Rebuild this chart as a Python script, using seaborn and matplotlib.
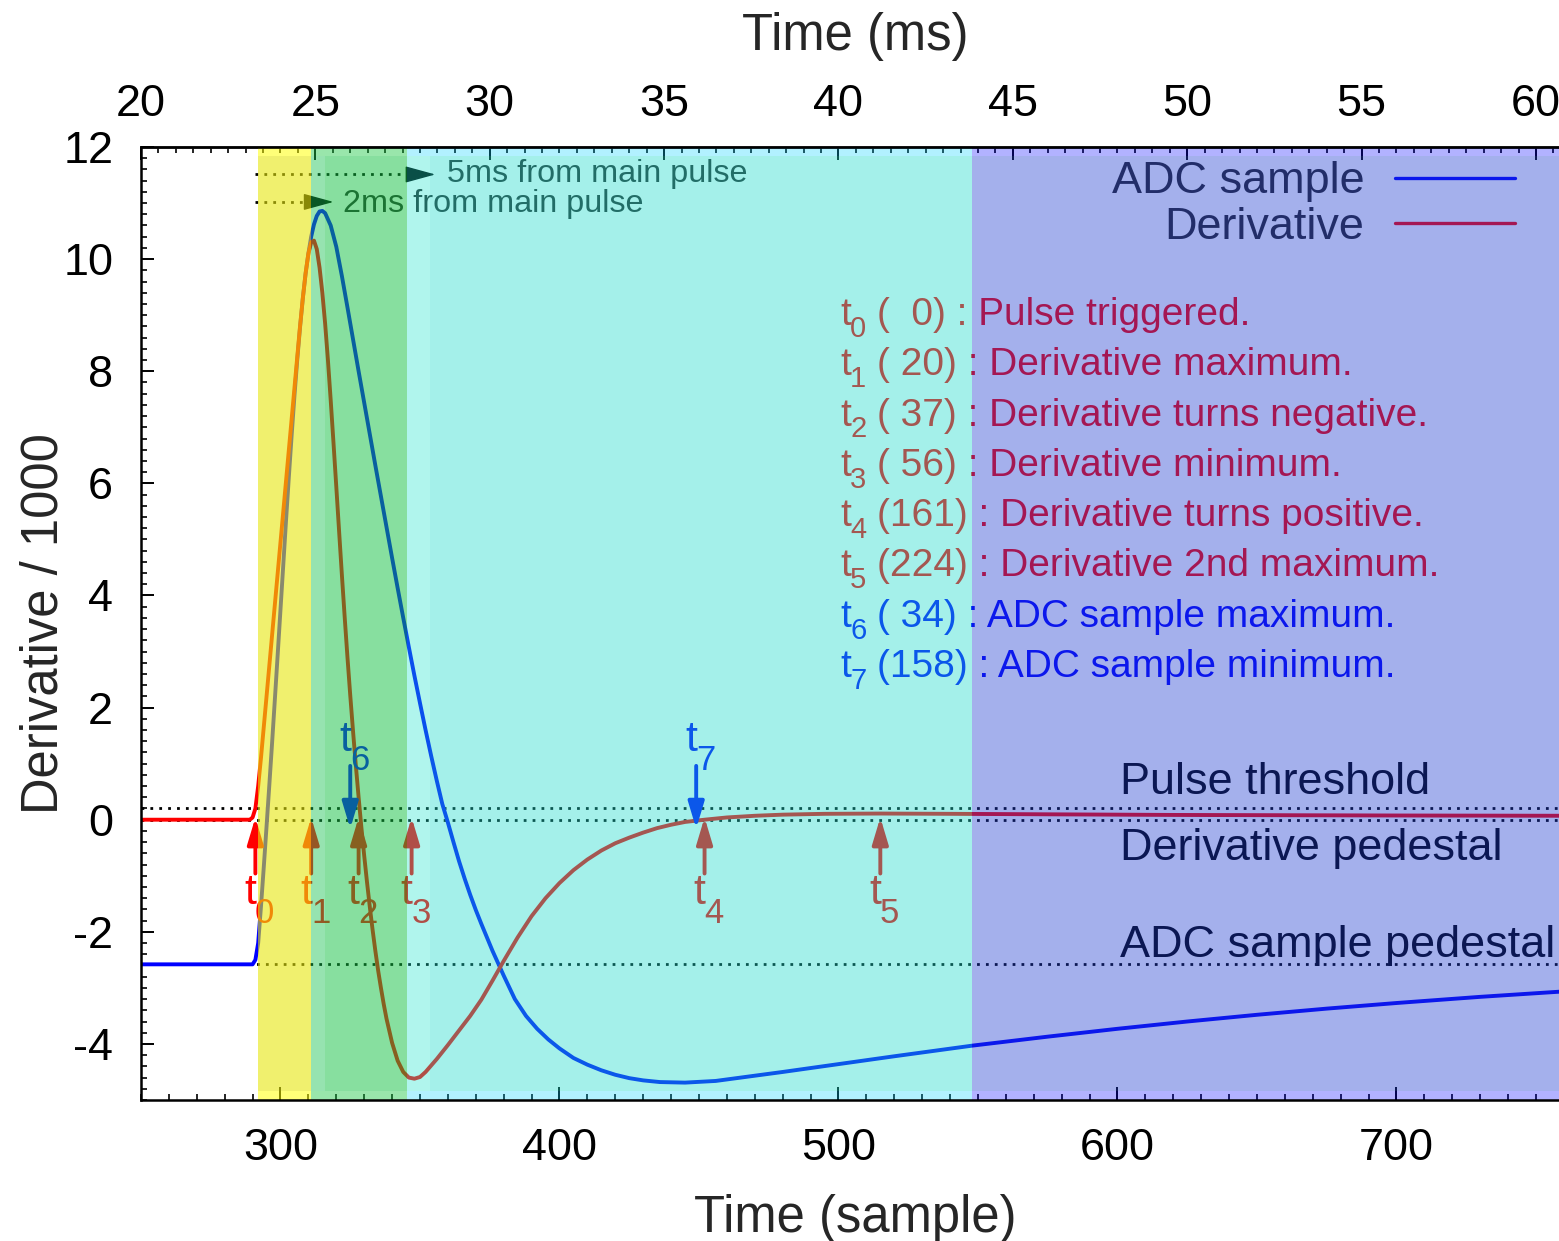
import numpy as np
import pandas as pd
import matplotlib
matplotlib.use("Agg")
import matplotlib.pyplot as plt
import seaborn as sns
from matplotlib.ticker import MultipleLocator

# ---------------- data ----------------
adc_x = [250, 270, 288, 290, 291, 292, 293, 294, 295, 296, 297, 298, 299, 300, 301, 302, 303,
         304, 305, 306, 307, 308, 309, 310, 311, 312, 313, 314, 315, 316, 318, 320, 322, 324,
         326, 328, 330, 332, 334, 336, 338, 340, 342, 344, 346, 348, 350, 352, 354, 356, 358,
         360, 362, 364, 366, 368, 370, 372, 374, 376, 378, 380, 382, 384, 388, 392, 396, 400,
         405, 410, 415, 420, 425, 430, 436, 445, 456, 465, 480, 500, 520, 548, 575, 600, 625,
         650, 675, 700, 730, 764]
adc_y = [-2.58, -2.58, -2.58, -2.58, -2.5, -2.2, -1.55, -0.85, -0.12, 0.62, 1.38, 2.16, 2.95,
         3.75, 4.55, 5.35, 6.12, 6.86, 7.56, 8.2, 8.78, 9.3, 9.74, 10.1, 10.4, 10.62, 10.77,
         10.85, 10.86, 10.82, 10.6, 10.22, 9.7, 9.14, 8.57, 8.0, 7.44, 6.88, 6.32, 5.77, 5.22,
         4.67, 4.13, 3.6, 3.08, 2.57, 2.08, 1.6, 1.14, 0.7, 0.28, -0.05, -0.4, -0.74, -1.05,
         -1.34, -1.61, -1.86, -2.1, -2.34, -2.56, -2.78, -2.99, -3.2, -3.5, -3.73, -3.92, -4.08,
         -4.25, -4.37, -4.47, -4.55, -4.61, -4.65, -4.68, -4.69, -4.66, -4.6, -4.5, -4.36,
         -4.22, -4.03, -3.87, -3.73, -3.6, -3.48, -3.37, -3.27, -3.16, -3.05]

der_x = [250, 270, 289, 290, 291, 292, 293, 294, 295, 296, 297, 298, 299, 300, 301, 302, 303,
         304, 305, 306, 307, 308, 309, 310, 311, 312, 313, 314, 315, 316, 317, 318, 319, 320,
         321, 322, 323, 324, 325, 326, 327, 328, 329, 330, 331, 332, 333, 334, 335, 336, 337,
         338, 340, 342, 344, 346, 348, 350, 352, 356, 360, 364, 368, 372, 376, 380, 385, 390,
         395, 400, 405, 410, 415, 420, 425, 430, 435, 440, 445, 452, 460, 470, 480, 495, 515,
         540, 580, 620, 700, 764]
der_y = [0.0, 0.0, 0.0, 0.04, 0.2, 0.6, 1.1, 1.65, 2.2, 2.75, 3.3, 3.85, 4.4, 4.95, 5.5, 6.05,
         6.6, 7.15, 7.7, 8.25, 8.8, 9.3, 9.75, 10.1, 10.3, 10.33, 10.18, 9.85, 9.4, 8.85, 8.2,
         7.48, 6.72, 5.94, 5.15, 4.37, 3.62, 2.9, 2.22, 1.58, 0.97, 0.4, -0.14, -0.64, -1.11,
         -1.55, -1.96, -2.34, -2.69, -3.0, -3.29, -3.55, -3.98, -4.3, -4.5, -4.6, -4.62, -4.59,
         -4.5, -4.27, -4.02, -3.76, -3.5, -3.21, -2.87, -2.52, -2.1, -1.72, -1.4, -1.13, -0.9,
         -0.71, -0.55, -0.42, -0.32, -0.23, -0.15, -0.09, -0.04, 0.0, 0.04, 0.07, 0.09, 0.105,
         0.11, 0.105, 0.095, 0.085, 0.075, 0.07]

t0_sample = 291
event_index = ["0", "1", "2", "3", "4", "5", "6", "7"]
event_offsets = [0, 20, 37, 56, 161, 224, 34, 158]
event_desc = ["Pulse triggered.", "Derivative maximum.", "Derivative turns negative.",
              "Derivative minimum.", "Derivative turns positive.", "Derivative 2nd maximum.",
              "ADC sample maximum.", "ADC sample minimum."]
event_series = ["der", "der", "der", "der", "der", "der", "adc", "adc"]

pulse_threshold = 0.2
derivative_pedestal = 0.0
adc_pedestal = -2.58

region_edges = [292, 311, 316, 345.5, 353.5, 548, 764]
marker_2ms_end = 319
marker_5ms_end = 355.5

xtick_major = [300, 400, 500, 600, 700]
ytick_major = [-4, -2, 0, 2, 4, 6, 8, 10, 12]
ms_ticks = [20, 25, 30, 35, 40, 45, 50, 55, 60]

# ---------------- style ----------------
sns.set_theme(style="white")
plt.rcParams["font.family"] = ["Liberation Sans", "DejaVu Sans"]
plt.rcParams["axes.unicode_minus"] = False

RED = "#ff0000"
BLUE = "#0000ff"
FS_TICK = 32.4
FS_LABEL = 36.5
FS_TABLE = 28
FS_SMALL = 23.3

fig = plt.figure(figsize=(15.59, 12.41), dpi=100)
fig.patch.set_facecolor("white")
ax = fig.add_axes([141 / 1559, 141 / 1241, 1434 / 1559, 953 / 1241])
ax.set_facecolor("white")

adc_df = pd.DataFrame({"sample": adc_x, "value": adc_y})
der_df = pd.DataFrame({"sample": der_x, "value": der_y})
sns.lineplot(data=adc_df, x="sample", y="value", ax=ax, color=BLUE, lw=2.8,
             sort=False, label="ADC sample", zorder=3)
sns.lineplot(data=der_df, x="sample", y="value", ax=ax, color=RED, lw=2.8,
             sort=False, label="Derivative", zorder=3)

ax.set_xlim(250, 764)
ax.set_ylim(-5, 12)

# dotted reference lines
dot = (0, (1, 2.2))
for yv in (pulse_threshold, derivative_pedestal, adc_pedestal):
    ax.axhline(yv, color="black", lw=2.0, linestyle=dot, zorder=2.5)

lab_x = (1120 - 141) / 1434
ax.text(lab_x, (1100 - 793.5) / 953, "Pulse threshold", transform=ax.transAxes,
        fontsize=FS_TICK, va="baseline", ha="left", color="black", zorder=3)
ax.text(lab_x, (1100 - 860) / 953, "Derivative pedestal", transform=ax.transAxes,
        fontsize=FS_TICK, va="baseline", ha="left", color="black", zorder=3)
ax.text(lab_x, (1100 - 956.5) / 953, "ADC sample pedestal", transform=ax.transAxes,
        fontsize=FS_TICK, va="baseline", ha="left", color="black", zorder=3)

# dotted "from main pulse" arrows
for yv, xend in ((11.51, marker_5ms_end), (11.02, marker_2ms_end)):
    ax.plot([t0_sample, xend - 3], [yv, yv], color="black", lw=2.0, linestyle=dot, zorder=3)
    ax.annotate("", xy=(xend, yv), xytext=(xend - 9, yv),
                arrowprops=dict(arrowstyle="-|>,head_length=0.95,head_width=0.26",
                                mutation_scale=20, lw=1.0, color="black",
                                shrinkA=0, shrinkB=0), zorder=3)
ax.text((447 - 141) / 1434, (1100 - 181.7) / 953, "5ms from main pulse",
        transform=ax.transAxes, fontsize=FS_SMALL, va="baseline", ha="left", zorder=3)
ax.text((343 - 141) / 1434, (1100 - 211.7) / 953, "2ms from main pulse",
        transform=ax.transAxes, fontsize=FS_SMALL, va="baseline", ha="left", zorder=3)

# event arrows and labels (t with lowered subscript)
for idx, off, ser in zip(event_index, event_offsets, event_series):
    xs = t0_sample + off
    col = RED if ser == "der" else BLUE
    if ser == "der":
        tail, tip, ly = -0.96, 0.04, -1.5
    else:
        tail, tip, ly = 0.96, -0.16, 1.23
    ax.annotate("", xy=(xs, tip), xytext=(xs, tail),
                arrowprops=dict(arrowstyle="-|>,head_length=0.8,head_width=0.24",
                                mutation_scale=20, lw=2.8, color=col,
                                shrinkA=0, shrinkB=0), zorder=4)
    ax.annotate("t", xy=(xs, ly), xycoords="data", xytext=(0.8, 0),
                textcoords="offset points", ha="right", va="baseline",
                fontsize=31, color=col, zorder=4)
    ax.annotate(idx, xy=(xs, ly), xycoords="data", xytext=(-0.2, -13.5),
                textcoords="offset points", ha="left", va="baseline",
                fontsize=25, color=col, zorder=4)

# event table
tx_t = (840 - 141) / 1434
tx_sub = (850 - 141) / 1434
tx_rest = (877 - 141) / 1434
for i, (idx, off, desc, ser) in enumerate(zip(event_index, event_offsets, event_desc,
                                               event_series)):
    col = RED if ser == "der" else BLUE
    yb = (1100 - (325 + 50.3 * i)) / 953
    ax.text(tx_t, yb, "t", transform=ax.transAxes, fontsize=FS_TABLE,
            va="baseline", ha="left", color=col, zorder=4)
    ax.annotate(idx, xy=(tx_sub, yb), xycoords="axes fraction", xytext=(0, -8.5),
                textcoords="offset points", fontsize=21, va="baseline", ha="left",
                color=col, zorder=4)
    ax.text(tx_rest, yb, "(%3d) : %s" % (off, desc), transform=ax.transAxes,
            fontsize=FS_TABLE, va="baseline", ha="left", color=col, zorder=4)

# legend
handles, labels = ax.get_legend_handles_labels()
leg = ax.legend(handles, labels, loc="upper right", bbox_to_anchor=(0.958, 0.985),
                frameon=False, markerfirst=False, fontsize=FS_TICK, handlelength=2.67,
                handletextpad=0.67, labelspacing=0.11, borderpad=0, borderaxespad=0)
for ln in leg.get_lines():
    ln.set_linewidth(2.4)
leg.set_zorder(5)

# translucent shaded regions drawn on top of everything
main_cols = [((230, 230, 13), 0.6), ((22, 195, 80), 0.45), ((17, 193, 65), 0.5),
             ((29, 229, 206), 0.35), ((28, 218, 203), 0.4), ((28, 58, 208), 0.4)]
band_cols = [((255, 255, 0), 0.53), ((30, 200, 70), 0.45), ((30, 200, 70), 0.45),
             ((0, 210, 255), 0.3), ((0, 210, 255), 0.3), ((0, 0, 255), 0.3)]
bw = 0.009
for i in range(len(region_edges) - 1):
    x0, x1 = region_edges[i], region_edges[i + 1]
    (c, a) = main_cols[i]
    (cb, ab) = band_cols[i]
    c = tuple(v / 255 for v in c)
    cb = tuple(v / 255 for v in cb)
    ax.axvspan(x0, x1, ymin=bw, ymax=1 - bw, color=c, alpha=a, lw=0, zorder=10)
    ax.axvspan(x0, x1, ymin=0, ymax=bw, color=cb, alpha=ab, lw=0, zorder=10)
    ax.axvspan(x0, x1, ymin=1 - bw, ymax=1, color=cb, alpha=ab, lw=0, zorder=10)

# axes, ticks
ax.set_xticks(xtick_major)
ax.set_yticks(ytick_major)
ax.xaxis.set_minor_locator(MultipleLocator(10))
ax.yaxis.set_minor_locator(MultipleLocator(0.2))
ax.tick_params(axis="both", which="major", direction="in", length=9.4, width=1.4,
               labelsize=FS_TICK, pad=20, bottom=True, left=True, top=False, right=False,
               colors="black")
ax.tick_params(axis="both", which="minor", direction="in", length=4.3, width=1.2,
               bottom=True, left=True, top=False, right=False, colors="black")
for side in ("left", "bottom", "top"):
    ax.spines[side].set_linewidth(1.8)
    ax.spines[side].set_color("black")
    ax.spines[side].set_zorder(20)
ax.spines["right"].set_visible(False)

ax.set_xlabel("Time (sample)", fontsize=FS_LABEL)
ax.xaxis.set_label_coords(0.498, -0.0986)
ax.set_ylabel("Derivative / 1000", fontsize=FS_LABEL)
ax.yaxis.set_label_coords(-0.0509, 0.5)


def s2ms(s):
    return 20 + (np.asarray(s, dtype=float) - 250) / 12.5


def ms2s(m):
    return 250 + (np.asarray(m, dtype=float) - 20) * 12.5


sec = ax.secondary_xaxis("top", functions=(s2ms, ms2s))
sec.set_xticks(ms_ticks)
sec.xaxis.set_minor_locator(MultipleLocator(0.5))
sec.tick_params(which="major", direction="in", length=9.4, width=1.4, labelsize=FS_TICK,
                pad=16, top=True, colors="black")
sec.tick_params(which="minor", direction="in", length=4.3, width=1.2, top=True,
                colors="black")
sec.spines["top"].set_linewidth(1.8)
ax.text(0.498, 1 + 97 / 953, "Time (ms)", transform=ax.transAxes, ha="center",
        va="baseline", fontsize=FS_LABEL)

fig.savefig("out.png", dpi=100)
